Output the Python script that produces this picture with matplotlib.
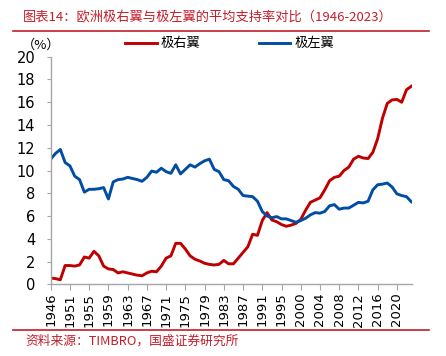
import matplotlib
matplotlib.use("Agg")
import matplotlib.pyplot as plt

plt.rcParams['font.family'] = ['Noto Sans CJK SC', 'DejaVu Sans']

# categories (two years not shown on the source axis)
years = [1946] + list(range(1948, 1996)) + list(range(1997, 2024))

far_right = [0.55, 0.5, 0.4, 1.65, 1.65, 1.6, 1.7, 2.4, 2.3, 2.9,
             2.5, 1.6, 1.35, 1.3, 1.0, 1.1, 1.0, 0.9, 0.8, 0.75,
             1.0, 1.15, 1.1, 1.6, 2.3, 2.5, 3.6, 3.6, 3.1, 2.5,
             2.2, 2.05, 1.85, 1.75, 1.7, 1.75, 2.1, 1.8, 1.8, 2.3,
             2.8, 3.3, 4.4, 4.3, 5.6, 6.3, 5.65, 5.5, 5.25, 5.1,
             5.2, 5.35, 5.7, 6.5, 7.2, 7.4, 7.6, 8.3, 9.1, 9.4,
             9.5, 10.0, 10.3, 11.0, 11.25, 11.1, 11.05, 11.6, 12.8, 14.6,
             15.9, 16.2, 16.25, 16.0, 17.1, 17.4]

far_left = [11.0, 11.5, 11.85, 10.7, 10.4, 9.5, 9.2, 8.1, 8.35, 8.35,
            8.4, 8.5, 7.5, 9.0, 9.2, 9.25, 9.4, 9.3, 9.2, 9.05,
            9.4, 9.95, 9.85, 10.2, 9.9, 9.75, 10.5, 9.7, 10.1, 10.5,
            10.3, 10.6, 10.85, 11.0, 10.1, 9.9, 9.2, 9.1, 8.6, 8.35,
            7.8, 7.75, 7.7, 7.3, 6.4, 6.0, 5.85, 5.95, 5.75, 5.75,
            5.6, 5.45, 5.6, 5.8, 6.1, 6.3, 6.25, 6.4, 6.9, 7.0,
            6.6, 6.7, 6.7, 6.95, 7.2, 7.15, 7.3, 8.3, 8.75, 8.8,
            8.9, 8.55, 7.95, 7.8, 7.7, 7.25]

labels = ['极右翼', '极左翼']
title = '图表14：欧洲极右翼与极左翼的平均支持率对比（1946-2023）'
source = '资料来源：TIMBRO，国盛证券研究所'

red = '#C00000'
blue = '#004DA3'
title_red = '#C41E2A'
grey = '#A6A6A6'

fig = plt.figure(figsize=(4.46, 3.56), dpi=100)
ax = fig.add_axes([0.1137, 0.2014, 0.8107, 0.6393])

x = list(range(len(years)))
ax.plot(x, far_right, color=red, lw=2.1, solid_joinstyle='round', label=labels[0])
ax.plot(x, far_left, color=blue, lw=2.1, solid_joinstyle='round', label=labels[1])

ax.set_xlim(0, len(years) - 1 + 0.2)
ax.set_ylim(0, 20)
ax.set_yticks(range(0, 21, 2))
ax.set_xticks(x[::4])
ax.set_xticklabels([str(y) for y in years[::4]], rotation=90, fontsize=9.5,
                   family='DejaVu Sans')
ax.tick_params(axis='y', labelsize=10.5, length=3, color=grey, pad=8)
ax.tick_params(axis='x', length=4, color=grey, pad=2)
for lab in ax.get_yticklabels():
    lab.set_family('DejaVu Sans')

for s in ['top', 'right']:
    ax.spines[s].set_visible(False)
for s in ['left', 'bottom']:
    ax.spines[s].set_color(grey)
    ax.spines[s].set_linewidth(1.0)

ax.legend(loc='center left', bbox_to_anchor=(0.206, 1.056), ncol=2, frameon=False,
          fontsize=9.5, handlelength=2.4, columnspacing=4.4, handletextpad=0.3,
          borderpad=0, borderaxespad=0)

fig.text(0.05, 0.874, '（%）', fontsize=9.5, va='center')

# title, rules and source
fig.text(0.052, 0.953, title, fontsize=9.5, color=title_red, style='italic', va='center')
fig.add_artist(plt.Line2D([0.03, 0.962], [0.912, 0.912], color=title_red, lw=1.2))
fig.add_artist(plt.Line2D([0.03, 0.962], [0.073, 0.073], color=title_red, lw=1.2))
fig.text(0.056, 0.042, source, fontsize=9.2, color=title_red, style='italic', va='center')

fig.savefig('out.png', dpi=100)
